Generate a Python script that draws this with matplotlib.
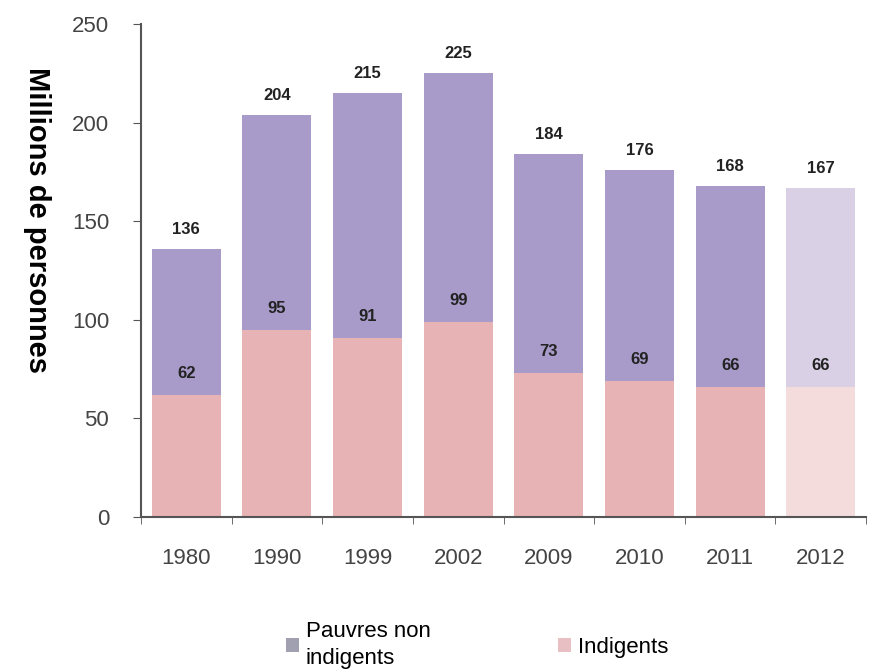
import matplotlib
matplotlib.use("Agg")
import matplotlib.pyplot as plt
from matplotlib.patches import Patch
import numpy as np

years = ["1980", "1990", "1999", "2002", "2009", "2010", "2011", "2012"]
indigents = [62, 95, 91, 99, 73, 69, 66, 66]
totals = [136, 204, 215, 225, 184, 176, 168, 167]
non_indigents = [t - i for t, i in zip(totals, indigents)]

plt.rcParams['font.family'] = ['Liberation Sans', 'DejaVu Sans']

fig = plt.figure(figsize=(8.74, 6.72), dpi=100)
ax = fig.add_axes([0.1613, 0.2307, 0.8297, 0.7336])

x = np.arange(len(years))
purple = ["#a99bc9"] * 7 + ["#d9d0e6"]
pink = ["#e8b3b4"] * 7 + ["#f4dcdd"]

ax.bar(x, indigents, width=0.76, color=pink, edgecolor='none')
ax.bar(x, non_indigents, bottom=indigents, width=0.76, color=purple, edgecolor='none')

for xi, t, i in zip(x, totals, indigents):
    ax.text(xi, t + 6, str(t), ha='center', va='bottom', fontsize=12, fontweight='bold', color='#222222')
    ax.text(xi, i + 7, str(i), ha='center', va='bottom', fontsize=12, fontweight='bold', color='#222222')

ax.set_xlim(-0.5, len(years) - 0.5)
ax.set_ylim(0, 250)
ax.set_yticks([0, 50, 100, 150, 200, 250])
ax.set_xticks(x)
ax.set_xticklabels(years)
ax.set_xticks(np.arange(-0.5, len(years)), minor=True)
ax.tick_params(axis='x', which='major', length=0, pad=22, labelsize=16, labelcolor='#444444')
ax.tick_params(axis='x', which='minor', length=5, direction='out', color='#555555')
ax.tick_params(axis='y', length=6, direction='out', pad=17, labelsize=16, labelcolor='#444444', color='#555555')

for s in ['top', 'right']:
    ax.spines[s].set_visible(False)
ax.spines['left'].set_color('#555555')
ax.spines['bottom'].set_color('#555555')
ax.spines['left'].set_linewidth(1.5)
ax.spines['bottom'].set_linewidth(1.5)

fig.text(0.042, 0.673, "Millions de personnes", rotation=-90, ha='center', va='center',
         fontsize=21, fontweight='bold', color='black')

handles = [Patch(facecolor="#a0a0b0", edgecolor='none'), Patch(facecolor="#e8c0c4", edgecolor='none')]
leg = fig.legend(handles, ["Pauvres non\nindigents", "Indigents"], loc='upper left',
           bbox_to_anchor=(0.304, 0.105), ncol=2, frameon=False, fontsize=16,
           handlelength=0.6, handleheight=0.6, handletextpad=0.3, columnspacing=5.73)
for t in leg.get_texts():
    t.set_linespacing(1.35)

fig.savefig("out.png", dpi=100)
